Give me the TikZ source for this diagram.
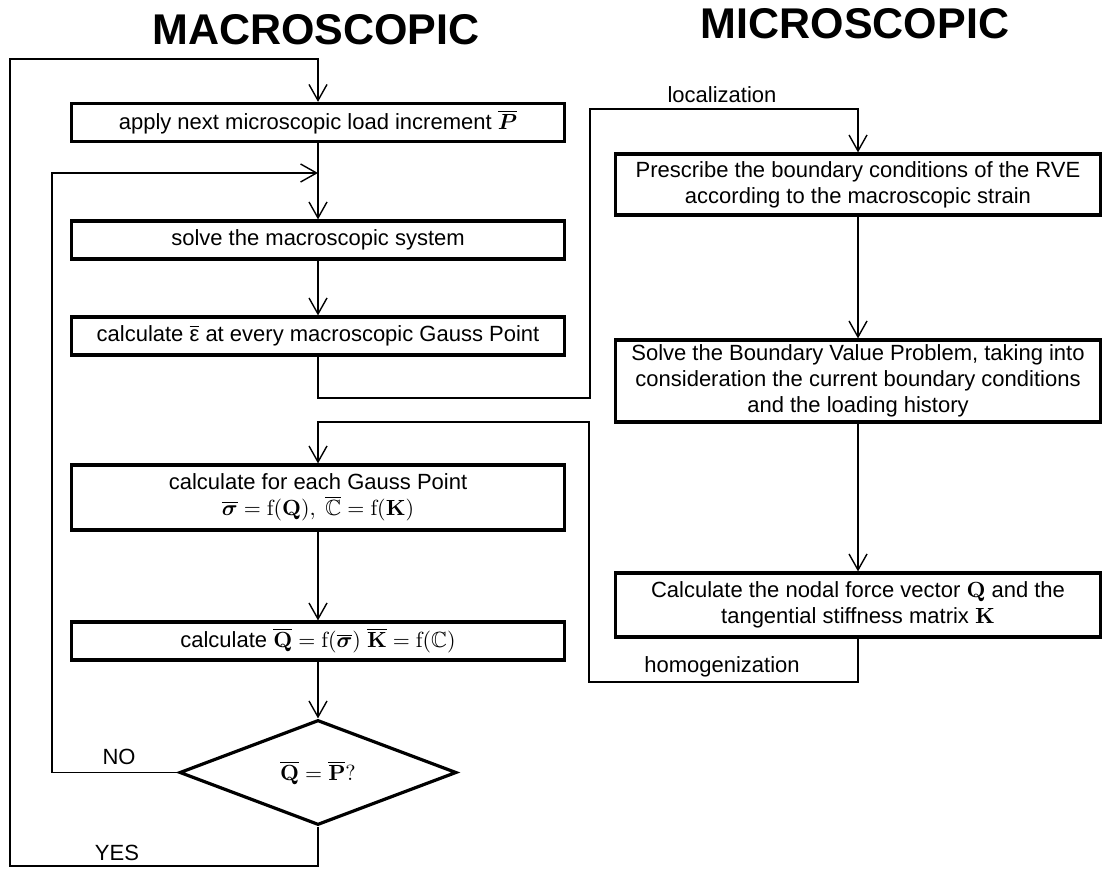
\documentclass[tikz,border=0pt]{standalone}
\usepackage{amsmath,amssymb,bm}
\usepackage[no-math]{fontspec}
\setmainfont{Liberation Sans}
\usetikzlibrary{arrows.meta,shapes.geometric}

\begin{document}
\begin{tikzpicture}[x=0.5pt, y=-0.5pt]
	\tikzstyle{every node} = [font=\fontsize{11}{13}\selectfont, inner sep=0pt]
	\tikzstyle{procbox} = [draw, line width=1.6pt, align=center, minimum width=246.5pt, minimum height=19pt]
	\tikzstyle{microbox} = [draw, line width=1.6pt, align=center, minimum width=242.5pt]
	\tikzstyle{decide} = [draw, diamond, line width=1.6pt, minimum width=138.5pt, minimum height=52.5pt]
	\tikzstyle{title} = [font=\fontsize{21.5}{25}\selectfont\bfseries]
	\tikzstyle{link} = [line width=0.7pt]
	\tikzstyle{flow} = [link, -{Straight Barb[length=8pt, width=9pt]}]
	\useasboundingbox (0,0) rectangle (1102,870);
	\node [title] (macro) at (316, 30) {MACROSCOPIC};
	\node [title] (micro) at (855, 24) {MICROSCOPIC};
	\node [procbox] (apply) at (318, 122.5) {apply next microscopic load increment $\bm{\overline{P}}$};
	\node [procbox] (solve) at (318, 240) {solve the macroscopic system};
	\node [procbox] (strain) at (318, 336) {calculate $\overline{\mbox{ε}}$ at every macroscopic Gauss Point};
	\node [procbox, minimum height=32.5pt] (gauss) at (318, 497.5) {calculate for each Gauss Point\\ $\overline{\bm{\sigma}} = \mathrm{f}(\mathbf{Q}),\ \overline{\mathbb{C}} = \mathrm{f}(\mathbf{K})$};
	\node [procbox] (average) at (318, 641) {calculate $\overline{\mathbf{Q}} = \mathrm{f}(\overline{\bm{\sigma}})\ \overline{\mathbf{K}} = \mathrm{f}(\mathbb{C})$};
	\node [decide] (check) at (318, 772.5) {$\overline{\mathbf{Q}} = \overline{\mathbf{P}}\mathrm{?}$};
	\node [microbox, minimum height=30.5pt] (prescribe) at (858, 184.5) {Prescribe the boundary conditions of the RVE\\ according to the macroscopic strain};
	\node [microbox, minimum height=41pt] (bvp) at (858, 381) {Solve the Boundary Value Problem, taking into\\ consideration the current boundary conditions\\ and the loading history};
	\node [microbox, minimum height=32pt] (nodal) at (858, 605) {Calculate the nodal force vector $\mathbf{Q}$ and the\\ tangential stiffness matrix $\mathbf{K}$};
	\node (local) at (722, 95) {localization};
	\node (homog) at (722, 667) {homogenization};
	\node (no) at (119, 757) {NO};
	\node (yes) at (117, 853) {YES};
	\coordinate (merge) at (318, 173);
	\draw [flow] (check.south) -- (318, 866) -| (10, 59) -| (apply.north);
	\draw [flow] (check.west) -- (52, 772.5) |- (merge);
	\draw [flow] (apply) -- (solve);
	\draw [flow] (solve) -- (strain);
	\draw [flow] (strain.south) -- (318, 398) -| (590, 109) -| (prescribe.north);
	\draw [flow] (prescribe) -- (bvp);
	\draw [flow] (bvp) -- (nodal);
	\draw [flow] (nodal.south) -- (858, 682) -| (589, 422) -| (gauss.north);
	\draw [flow] (gauss) -- (average);
	\draw [flow] (average) -- (check);
\end{tikzpicture}
\end{document}
